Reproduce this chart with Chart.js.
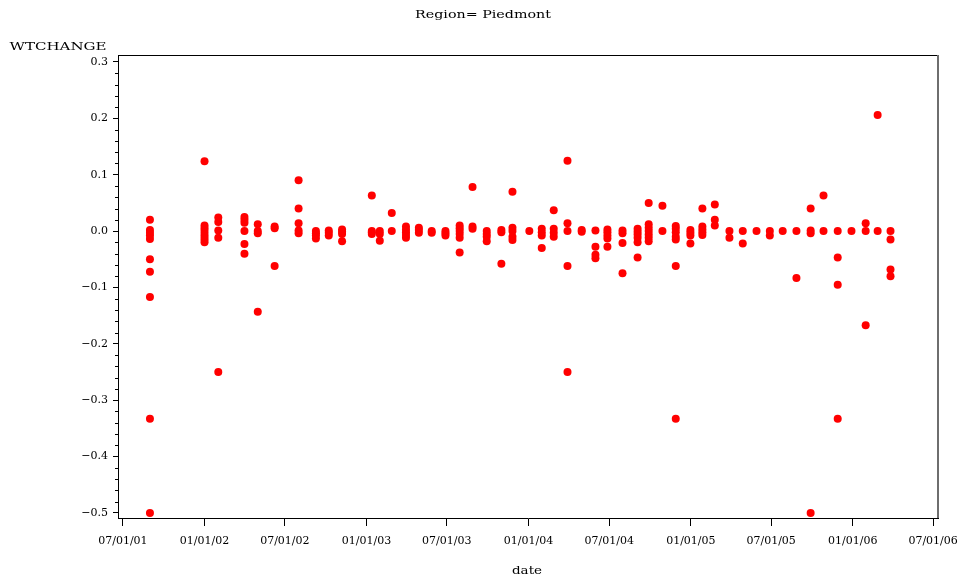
<!DOCTYPE html>
<html>
<head>
<meta charset="utf-8">
<script src="https://cdn.jsdelivr.net/npm/chart.js@4.4.1/dist/chart.umd.min.js"></script>
<style>
  html, body { margin: 0; padding: 0; background: #fff; }
</style>
</head>
<body>
<canvas id="myChart" width="963" height="582"></canvas>
<script>
// sampling dates (one per cluster of points)
const sampleDates = [
  '2001-08-31', '2002-01-01', '2002-02-01', '2002-04-01', '2002-05-01', '2002-06-08',
  '2002-08-01', '2002-09-09', '2002-10-08', '2002-11-07', '2003-01-13', '2003-01-31',
  '2003-02-27', '2003-03-31', '2003-04-29', '2003-05-28', '2003-06-28', '2003-07-30',
  '2003-08-28', '2003-09-29', '2003-11-01', '2003-11-26', '2004-01-03', '2004-01-31',
  '2004-02-27', '2004-03-29', '2004-04-30', '2004-05-31', '2004-06-27', '2004-07-31',
  '2004-09-03', '2004-09-28', '2004-10-29', '2004-11-28', '2004-12-31', '2005-01-27',
  '2005-02-24', '2005-03-29', '2005-04-28', '2005-05-29', '2005-06-28', '2005-07-27',
  '2005-08-27', '2005-09-28', '2005-10-27', '2005-11-28', '2005-12-29', '2006-01-30',
  '2006-02-26', '2006-03-27'
];

// WTCHANGE values observed on each date above
const wtChange = [
  [0.02, 0.002, -0.003, -0.008, -0.014, -0.05, -0.072, -0.117, -0.333, -0.5],
  [0.124, 0.01, 0.005, 0.0, -0.005, -0.01, -0.015, -0.02],
  [0.024, 0.016, 0.001, -0.012, -0.25],
  [0.025, 0.02, 0.015, 0.0, -0.023, -0.04],
  [0.012, 0.0, -0.004, -0.143],
  [0.008, 0.005, -0.062],
  [0.09, 0.04, 0.014, 0.001, -0.004],
  [0.0, -0.004, -0.008, -0.013],
  [0.001, -0.003, -0.008],
  [0.003, -0.001, -0.005, -0.018],
  [0.063, 0.0, -0.002, -0.005],
  [0.0, -0.005, -0.017],
  [0.032, 0.0],
  [0.008, 0.003, -0.002, -0.007, -0.012],
  [0.006, 0.002, -0.003],
  [0.0, -0.003],
  [0.0, -0.004, -0.008],
  [0.01, 0.005, 0.0, -0.005, -0.012, -0.038],
  [0.078, 0.008, 0.004],
  [0.0, -0.005, -0.01, -0.018],
  [0.002, -0.002, -0.058],
  [0.07, 0.006, 0.0, -0.01, -0.016],
  [0.0],
  [0.004, -0.002, -0.008, -0.03],
  [0.037, 0.004, -0.003, -0.01],
  [0.125, 0.014, 0.0, -0.062, -0.25],
  [0.002, -0.001],
  [0.001, -0.028, -0.042, -0.048],
  [0.003, -0.002, -0.008, -0.013, -0.028],
  [0.001, -0.004, -0.021, -0.075],
  [0.004, -0.001, -0.006, -0.012, -0.02, -0.047],
  [0.05, 0.012, 0.006, 0.0, -0.006, -0.012, -0.018],
  [0.045, 0.0],
  [0.009, 0.004, -0.002, -0.01, -0.015, -0.062, -0.333],
  [0.002, -0.003, -0.008, -0.022],
  [0.04, 0.008, 0.003, -0.002, -0.007],
  [0.047, 0.02, 0.01],
  [0.0, -0.012],
  [0.0, -0.022],
  [0.0],
  [0.0, -0.008],
  [0.0],
  [0.0, -0.083],
  [0.04, 0.001, -0.004, -0.5],
  [0.063, 0.0],
  [0.0, -0.047, -0.095, -0.333],
  [0.0],
  [0.014, 0.0, -0.167],
  [0.206, 0.0],
  [0.0, -0.015, -0.068, -0.08]
];

const xTickDates = ['2001-07-01', '2002-01-01', '2002-07-01', '2003-01-01', '2003-07-01', '2004-01-01',
                    '2004-07-01', '2005-01-01', '2005-07-01', '2006-01-01', '2006-07-01'];
const yTickValues = [0.3, 0.2, 0.1, 0.0, -0.1, -0.2, -0.3, -0.4, -0.5];

// build the point list for the scatter dataset
const points = [];
sampleDates.forEach((d, i) => {
  wtChange[i].forEach(v => points.push({ x: Date.parse(d), y: v }));
});

function fmtDate(ms) {
  const d = new Date(ms);
  const p = n => String(n).padStart(2, '0');
  return p(d.getUTCMonth() + 1) + '/' + p(d.getUTCDate()) + '/' + p(d.getUTCFullYear() % 100);
}

// text in the wide SAS-like look: stretch to a given width
function drawWide(ctx, text, cx, cy, width, font) {
  ctx.save();
  ctx.font = font;
  ctx.fillStyle = '#000';
  ctx.textAlign = 'center';
  ctx.textBaseline = 'middle';
  const w = ctx.measureText(text).width;
  ctx.translate(cx, cy);
  ctx.scale(width / w, 1);
  ctx.fillText(text, 0, 0);
  ctx.restore();
}

const framePlugin = {
  id: 'frame',
  afterDraw(chart) {
    const ctx = chart.ctx;
    const a = chart.chartArea;
    const y = chart.scales.y;
    ctx.save();
    // top + right border of the frame
    ctx.strokeStyle = '#000';
    ctx.lineWidth = 1;
    ctx.beginPath();
    ctx.moveTo(a.left, a.top + 0.5);
    ctx.lineTo(a.right, a.top + 0.5);
    ctx.stroke();
    ctx.strokeStyle = '#6e6e6e';
    ctx.lineWidth = 2;
    ctx.beginPath();
    ctx.moveTo(a.right, a.top);
    ctx.lineTo(a.right, a.bottom);
    ctx.stroke();
    // minor ticks on y every 0.02
    ctx.strokeStyle = '#000';
    ctx.lineWidth = 1;
    ctx.beginPath();
    for (let k = -25; k <= 15; k++) {
      if (k % 5 === 0) continue;
      const py = Math.round(y.getPixelForValue(k * 0.02)) + 0.5;
      ctx.moveTo(a.left - 3, py);
      ctx.lineTo(a.left, py);
    }
    ctx.stroke();
    ctx.restore();

    drawWide(ctx, 'Region= Piedmont', 483, 15, 136, '11px "DejaVu Serif"');
    drawWide(ctx, 'WTCHANGE', 58, 47, 97, '11px "DejaVu Serif"');
    drawWide(ctx, 'date', 527, 571, 30, '11px "DejaVu Serif"');
  }
};

const ctx = document.getElementById('myChart').getContext('2d');
const chart = new Chart(ctx, {
  type: 'scatter',
  data: {
    datasets: [{
      data: points,
      backgroundColor: '#ff0000',
      borderColor: '#ff0000',
      borderWidth: 0,
      pointRadius: 4,
      pointHoverRadius: 4
    }]
  },
  options: {
    responsive: false,
    devicePixelRatio: 1,
    animation: false,
    layout: { padding: { top: 55, right: 25, bottom: 0, left: 0 } },
    plugins: {
      legend: { display: false },
      tooltip: { enabled: false },
      title: { display: false }
    },
    scales: {
      x: {
        type: 'linear',
        position: 'bottom',
        min: Date.UTC(2001, 5, 20),
        max: Date.UTC(2006, 6, 12),
        afterBuildTicks: (axis) => {
          axis.ticks = xTickDates.map(s => ({ value: Date.parse(s) }));
        },
        afterFit: (axis) => {
          axis.height = 64;
          axis.paddingLeft = 0;
          axis.paddingRight = 0;
        },
        ticks: {
          autoSkip: false,
          maxRotation: 0,
          padding: 9,
          color: '#000',
          font: { family: 'DejaVu Serif', size: 11 },
          callback: (v) => fmtDate(v)
        },
        grid: { drawOnChartArea: false, tickLength: 8, tickColor: '#000' },
        border: { color: '#000', width: 1 }
      },
      y: {
        type: 'linear',
        position: 'left',
        min: -0.509,
        max: 0.3124,
        afterBuildTicks: (axis) => {
          axis.ticks = yTickValues.map(v => ({ value: v }));
        },
        afterFit: (axis) => {
          axis.width = 118;
          axis.paddingTop = 0;
          axis.paddingBottom = 0;
        },
        ticks: {
          padding: 5,
          color: '#000',
          font: { family: 'DejaVu Serif', size: 11 },
          callback: (v) => (v < -1e-9 ? '\u2212' : '') + Math.abs(v).toFixed(1)
        },
        grid: { drawOnChartArea: false, tickLength: 5, tickColor: '#000' },
        border: { color: '#000', width: 1 }
      }
    }
  },
  plugins: [framePlugin]
});
</script>
</body>
</html>
